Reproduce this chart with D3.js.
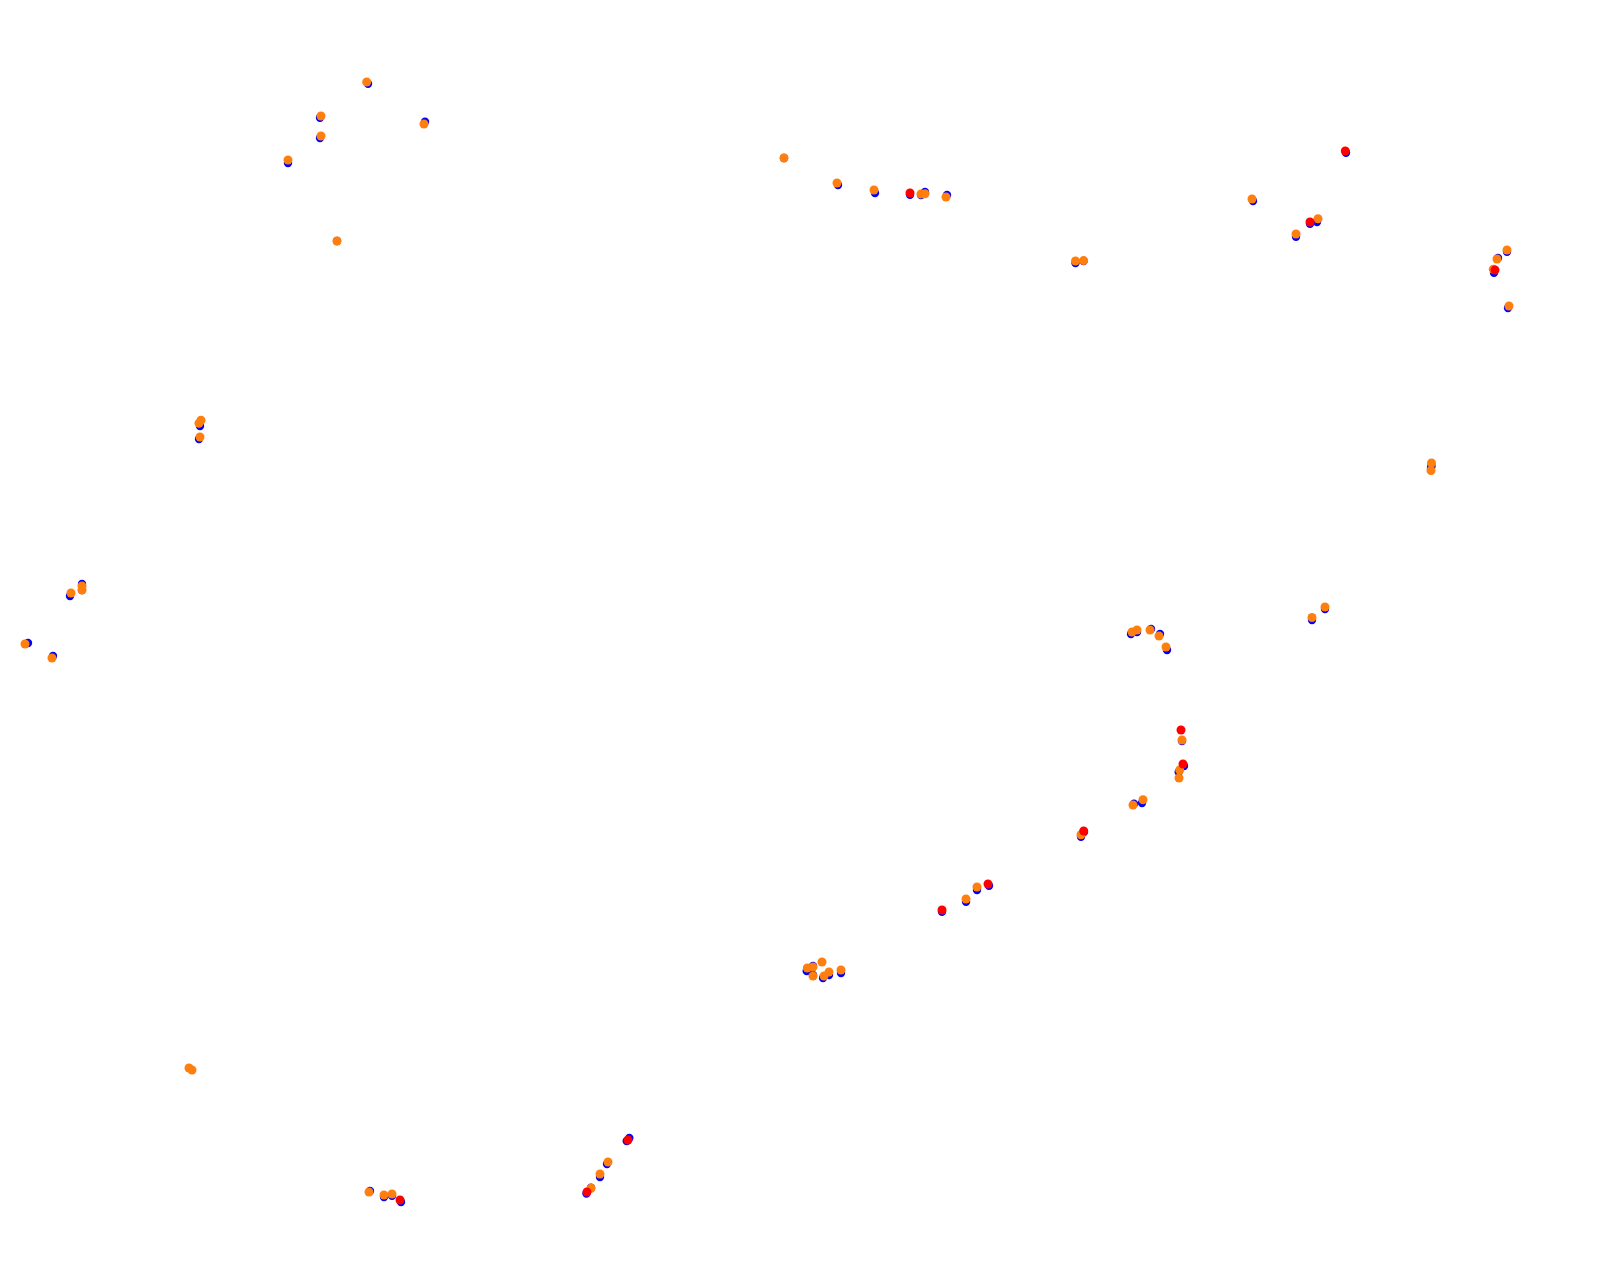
<!DOCTYPE html>
<html>
<head>
<meta charset="utf-8">
<title>Scatter</title>
<script src="https://cdn.jsdelivr.net/npm/d3@7/dist/d3.min.js"></script>
<style>
html,body{margin:0;padding:0;background:#fff;overflow:hidden}
svg{display:block}
</style>
</head>
<body>
<div id="chart"></div>
<script>
const blueSeries = [
[368,83.7],[320,117.7],[320,138],[288,163],[425,121.7],[337,241],
[784,158],[838,185],[875,193],[910,194.7],[921,195],[925,192],[947,195],
[1253,201],[1310,223.7],[1317,222],[1296,236.7],[1346,152.7],
[1507,251.7],[1498,258],[1494,272.7],[1508,308],
[1131,634],[1137,632],[1151,629],[1160,634],[1167,650],
[1182,741],[1184,766],[1178.7,772],[1142,803],[1134,803.7],[1081,836.7],[1084,832],
[806.7,971],[813,966],[813,975],[823,978],[829,975],[841,973],
[966,901.7],[977,890],[989,885.7],[942,911.7],
[370,1191],[384,1197],[392,1195.7],[401,1202],
[626.7,1141],[629.3,1138],[607,1164],[600,1177],[591,1187.7],[586.5,1193.5],
[70,596],[82,584],[82,590],[28,643],[53,656],
[200,426],[199,439],
[1431.5,466],[1431,468],[1312,620],[1325,609],[1075.5,263],[1083.6,261]
];
const orangeSeries = [
[366.7,82],[321,116],[321,136],[288,160],[424,124],[337,241],
[784,158],[837,183],[874,190],[921,194],[925,193.7],[946,197],
[1252,199],[1318,218.7],[1296,234],
[1507,250],[1497,259],[1493.3,269.3],[1509,306],
[1132,632],[1137,630],[1150,630],[1159,636],[1166,647],
[1182,740],[1179.7,770],[1179,778],[1143,799.7],[1133,805],[1081,834.7],
[822,962],[807.3,968],[813,967],[813,976],[824,976],[829,972],[841,970],
[966,899],[977,887],
[369,1192],[384,1195],[392,1194],
[608,1162],[600,1174],[591,1188.3],
[71,593],[82,586],[82,590],[25,644],[52,658],
[201,420.3],[199,423.3],[200,437],
[189,1068],[192,1070],
[1431.5,463],[1431,470.5],[1312,617.5],[1325,607],[1075.5,261],[1083.6,260.6]
];
const redSeries = [
[910,193],[1310,222],[1345.3,151],[1495,270],
[1181,730],[1183,764],[1083.7,831],
[988,884],[942,910],[400,1200],[628,1140],[587,1192]
];
const width = 1609, height = 1282;
const x = d3.scaleLinear().domain([0, 1609]).range([0, width]);
const y = d3.scaleLinear().domain([0, 1282]).range([0, height]);
const svg = d3.select("#chart").append("svg").attr("width", width).attr("height", height);
const layers = [
  {name: "blue", data: blueSeries, color: "#0000ff", r: 4.2},
  {name: "orange", data: orangeSeries, color: "#ff7f0e", r: 4.5},
  {name: "red", data: redSeries, color: "#ff0000", r: 4.5}
];
layers.forEach(l => {
  svg.append("g").attr("class", l.name).selectAll("circle").data(l.data).join("circle")
    .attr("cx", d => x(d[0])).attr("cy", d => y(d[1])).attr("r", l.r)
    .attr("fill", l.color);
});
</script>
</body>
</html>
